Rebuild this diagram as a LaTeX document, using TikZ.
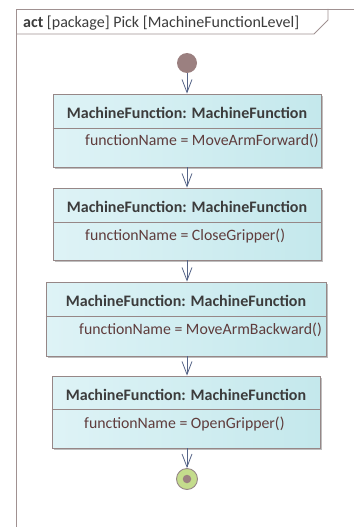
\documentclass[tikz,border=0pt]{standalone}
\usepackage{fontspec}
\setmainfont{Carlito}
\usetikzlibrary{arrows.meta}
\definecolor{framecol}{RGB}{160,145,145}
\definecolor{boxborder}{RGB}{150,135,135}
\definecolor{boxleft}{RGB}{222,243,246}
\definecolor{boxright}{RGB}{196,232,236}
\definecolor{shadowcol}{RGB}{190,190,190}
\definecolor{arrowcol}{RGB}{85,100,135}
\definecolor{titlecol}{RGB}{60,60,60}
\definecolor{attrcol}{RGB}{95,60,60}
\definecolor{startcol}{RGB}{155,128,128}
\definecolor{endcol}{RGB}{196,220,140}
\tikzset{
  mfbox/.style={draw=boxborder, line width=0.9pt, left color=boxleft, right color=boxright, inner sep=0pt},
  mfshadow/.style={fill=shadowcol, draw=none, inner sep=0pt},
  mftitle/.style={font=\fontsize{16}{18}\selectfont\bfseries, text=titlecol, inner sep=0pt},
  mfattr/.style={font=\fontsize{15.8}{18}\selectfont, text=attrcol, inner sep=0pt, anchor=west},
  flow/.style={draw=arrowcol, line width=0.8pt, -{Straight Barb[length=13pt,width=10pt,line width=0.8pt]}},
  divider/.style={draw=boxborder, line width=0.9pt}
}
\begin{document}
\begin{tikzpicture}[x=1pt,y=-1pt]
\useasboundingbox (0,0) rectangle (354,527);
% frame
\draw[framecol, line width=0.9pt] (354,9) -- (16,9) -- (16,530);
\draw[framecol, line width=0.9pt] (16,34) -- (314,34) -- (328,20) -- (328,9);
\node[anchor=west, inner sep=0pt, font=\fontsize{16}{18}\selectfont, text=titlecol] (frametitle) at (23,23.5) {\textbf{act} [package] Pick [MachineFunctionLevel]};

% start node
\node[circle, fill=startcol, minimum size=20pt, inner sep=0pt] (start) at (187,63) {};

% boxes: shadows first
\node[mfshadow, minimum width=268pt, minimum height=73pt] (s1) at (189,132.5) {};
\node[mfshadow, minimum width=268pt, minimum height=72pt] (s2) at (189,226) {};
\node[mfshadow, minimum width=280pt, minimum height=74pt] (s3) at (188,321) {};
\node[mfshadow, minimum width=268pt, minimum height=72pt] (s4) at (188,414) {};

\node[mfbox, minimum width=268pt, minimum height=73pt] (b1) at (187,130.5) {};
\node[mfbox, minimum width=268pt, minimum height=72pt] (b2) at (187,224) {};
\node[mfbox, minimum width=280pt, minimum height=74pt] (b3) at (186,319) {};
\node[mfbox, minimum width=268pt, minimum height=72pt] (b4) at (186,412) {};

\draw[divider] (b1.west |- 0,128) -- (b1.east |- 0,128);
\draw[divider] (b2.west |- 0,222) -- (b2.east |- 0,222);
\draw[divider] (b3.west |- 0,316) -- (b3.east |- 0,316);
\draw[divider] (b4.west |- 0,409) -- (b4.east |- 0,409);

\node[mftitle] (t1) at (187,113) {MachineFunction: MachineFunction};
\node[mftitle] (t2) at (187,207) {MachineFunction: MachineFunction};
\node[mftitle] (t3) at (186,301) {MachineFunction: MachineFunction};
\node[mftitle] (t4) at (186,395) {MachineFunction: MachineFunction};

\node[mfattr] (a1) at (85,141) {functionName = MoveArmForward()};
\node[mfattr] (a2) at (85,236) {functionName = CloseGripper()};
\node[mfattr] (a3) at (79,330) {functionName = MoveArmBackward()};
\node[mfattr] (a4) at (84,424) {functionName = OpenGripper()};

% end node
\node[circle, fill=endcol, draw=boxborder, line width=0.9pt, minimum size=21pt, inner sep=0pt] (final) at (187,479) {};
\node[circle, fill=startcol, minimum size=8.5pt, inner sep=0pt] (finaldot) at (final.center) {};

% flows
\draw[flow] (start) -- (start |- b1.north);
\draw[flow] (b1.south -| start) -- (start |- b2.north);
\draw[flow] (b2.south -| start) -- (start |- b3.north);
\draw[flow] (b3.south -| start) -- (start |- b4.north);
\draw[flow] (b4.south -| start) -- (final);
\end{tikzpicture}
\end{document}
